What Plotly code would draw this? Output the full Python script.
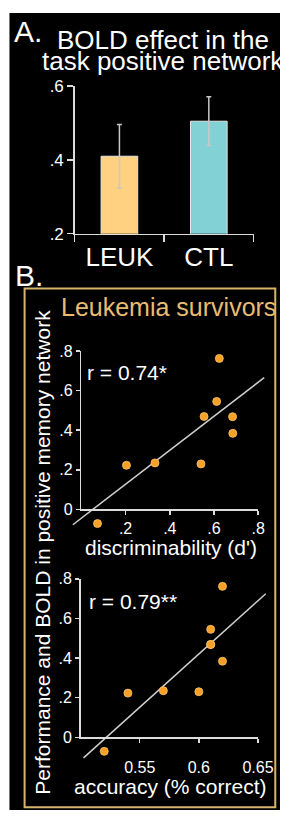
import plotly.graph_objects as go

# ---------------- data ----------------
groups = ["LEUK", "CTL"]
bold_means = [0.41, 0.505]
bold_err = [0.086, 0.066]

d_prime = [0.073, 0.204, 0.333, 0.541, 0.555, 0.612, 0.624, 0.684, 0.685]
accuracy = [0.520, 0.540, 0.570, 0.600, 0.610, 0.610, 0.620, 0.610, 0.620]
bold_memory = [-0.071, 0.223, 0.235, 0.230, 0.469, 0.545, 0.762, 0.468, 0.384]

fit_d_x = [-0.0385, 0.827]
fit_d_y = [-0.077, 0.665]
fit_acc_x = [0.5025, 0.6566]
fit_acc_y = [-0.104, 0.725]

bar_yticks = [0.2, 0.4, 0.6]
bar_yticktext = [".2", ".4", ".6"]
sc_yticks = [0, 0.2, 0.4, 0.6, 0.8]
sc_yticktext = ["0", ".2", ".4", ".6", ".8"]
d_xticks = [0.2, 0.4, 0.6, 0.8]
d_xticktext = [".2", ".4", ".6", ".8"]
acc_xticks = [0.55, 0.6, 0.65]
acc_xticktext = ["0.55", "0.6", "0.65"]

# ---------------- geometry ----------------
W, H = 296, 823
FONT = "Liberation Sans, Arial, Helvetica, sans-serif"
AX = "#DCDCDC"
GOLD = "#D8B36C"
ORANGE = "#F5A027"


def xd(p0, p1):
    return [p0 / W, p1 / W]


def yd(ptop, pbot):
    return [1 - pbot / H, 1 - ptop / H]


def px(p):
    return p / W


def py(p):
    return 1 - p / H


# top scatter pixel mapping
T_X0, T_XS = 86.0, 233.75      # px at x=0, px per unit
T_Y0, T_YS = 512.3, 202.9      # px at y=0, px per unit
T_XR = [-0.046, 0.835]
T_YR = [-0.115, 0.80]
# bottom scatter pixel mapping
B_X0, B_XV, B_XS = 85.2, 0.5, 1250.0
B_Y0, B_YS = 745.5, 202.75
B_XR = [0.4965, 0.661]
B_YR = [-0.125, 0.80]

fig = go.Figure()

# ---------------- panel A bars ----------------
fig.add_trace(go.Bar(
    x=groups, y=bold_means, width=0.41,
    marker=dict(color=["#FFD181", "#81D1D5"], line=dict(color="#E6E6E6", width=1)),
    error_y=dict(type="data", array=bold_err, color="#C8C8C8", thickness=1.5, width=2.5),
    xaxis="x", yaxis="y", showlegend=False, hoverinfo="skip",
))

# ---------------- top scatter (data axes x2/y2) ----------------
fig.add_trace(go.Scatter(
    x=fit_d_x, y=fit_d_y, mode="lines",
    line=dict(color="#CFCFCF", width=1.5),
    xaxis="x2", yaxis="y2", showlegend=False, hoverinfo="skip",
))
fig.add_trace(go.Scatter(
    x=d_prime, y=bold_memory, mode="markers",
    marker=dict(color=ORANGE, size=8, line=dict(color="#FFC46A", width=0.8)),
    xaxis="x2", yaxis="y2", showlegend=False, hoverinfo="skip",
))
# display axes x3/y3
fig.add_trace(go.Scatter(x=[None], y=[None], xaxis="x3", yaxis="y3",
                         showlegend=False, hoverinfo="skip"))

# ---------------- bottom scatter (data axes x4/y4) ----------------
fig.add_trace(go.Scatter(
    x=fit_acc_x, y=fit_acc_y, mode="lines",
    line=dict(color="#CFCFCF", width=1.5),
    xaxis="x4", yaxis="y4", showlegend=False, hoverinfo="skip",
))
fig.add_trace(go.Scatter(
    x=accuracy, y=bold_memory, mode="markers",
    marker=dict(color=ORANGE, size=8, line=dict(color="#FFC46A", width=0.8)),
    xaxis="x4", yaxis="y4", showlegend=False, hoverinfo="skip",
))
fig.add_trace(go.Scatter(x=[None], y=[None], xaxis="x5", yaxis="y5",
                         showlegend=False, hoverinfo="skip"))

tickfont_a = dict(family=FONT, size=17, color="white")
tickfont_b = dict(family=FONT, size=16, color="white")

common_disp = dict(showline=True, linecolor=AX, linewidth=1.5, ticks="outside",
                   tickcolor=AX, tickwidth=1.5, showgrid=False, zeroline=False,
                   fixedrange=True)
hidden = dict(visible=False, showgrid=False, zeroline=False, fixedrange=True)

fig.update_layout(
    width=W, height=H, autosize=False,
    margin=dict(l=0, r=0, t=0, b=0, pad=0),
    paper_bgcolor="white", plot_bgcolor="rgba(0,0,0,0)",
    font=dict(family=FONT, color="white"),
    bargap=0,
    # panel A
    xaxis=dict(domain=xd(79, 268), anchor="y", range=[-0.5, 1.5],
               tickson="boundaries", ticklen=7,
               tickfont=dict(family=FONT, size=26, color="white"), **common_disp),
    yaxis=dict(domain=yd(79, 230), anchor="x", range=[0.2, 0.6],
               tickvals=bar_yticks, ticktext=bar_yticktext, ticklen=6,
               tickfont=tickfont_a, **common_disp),
    # top scatter data axes
    xaxis2=dict(domain=xd(T_X0 + T_XR[0] * T_XS, T_X0 + T_XR[1] * T_XS),
                anchor="y2", range=T_XR, **hidden),
    yaxis2=dict(domain=yd(T_Y0 - T_YR[1] * T_YS, T_Y0 - T_YR[0] * T_YS),
                anchor="x2", range=T_YR, **hidden),
    # top scatter display axes
    xaxis3=dict(domain=xd(T_X0, T_X0 + 0.8 * T_XS), anchor="y3", range=[0, 0.8],
                tickvals=d_xticks, ticktext=d_xticktext, ticklen=4,
                tickfont=tickfont_b, **common_disp),
    yaxis3=dict(domain=yd(T_Y0 - 0.8 * T_YS, T_Y0), anchor="x3", range=[0, 0.8],
                tickvals=sc_yticks, ticktext=sc_yticktext, ticklen=4,
                tickfont=tickfont_b, **common_disp),
    # bottom scatter data axes
    xaxis4=dict(domain=xd(B_X0 + (B_XR[0] - B_XV) * B_XS, B_X0 + (B_XR[1] - B_XV) * B_XS),
                anchor="y4", range=B_XR, **hidden),
    yaxis4=dict(domain=yd(B_Y0 - B_YR[1] * B_YS, B_Y0 - B_YR[0] * B_YS),
                anchor="x4", range=B_YR, **hidden),
    # bottom scatter display axes
    xaxis5=dict(domain=xd(B_X0, B_X0 + 0.15 * B_XS), anchor="y5", range=[0.5, 0.65],
                tickvals=acc_xticks, ticktext=acc_xticktext, ticklen=4,
                ticklabelstandoff=11,
                tickfont=tickfont_b, **common_disp),
    yaxis5=dict(domain=yd(B_Y0 - 0.8 * B_YS, B_Y0), anchor="x5", range=[0, 0.8],
                tickvals=sc_yticks, ticktext=sc_yticktext, ticklen=4,
                tickfont=tickfont_b, **common_disp),
)

# background panels
fig.add_shape(type="rect", xref="paper", yref="paper",
              x0=px(10), x1=px(296), y0=py(820), y1=py(4),
              fillcolor="black", line=dict(width=0), layer="below")
fig.add_shape(type="rect", xref="paper", yref="paper",
              x0=px(26), x1=px(291), y0=py(817), y1=py(286),
              fillcolor="rgba(0,0,0,0)", line=dict(color=GOLD, width=2), layer="below")


def note(text, x, y, size, color="white", xanchor="center", yanchor="middle", angle=0):
    fig.add_annotation(text=text, x=x, y=y, xref="paper", yref="paper",
                       xanchor=xanchor, yanchor=yanchor, showarrow=False,
                       textangle=angle, borderpad=0,
                       font=dict(family=FONT, size=size, color=color))


note("A.", px(14), py(23), 30, xanchor="left")
note("BOLD effect in the", px(172), py(32), 26)
note("task positive network", px(172), py(53), 26)
note("B.", px(15), py(273), 30, xanchor="left")
note("Leukemia survivors", px(178), py(305), 25, color="#E8BC72")
note("Performance and BOLD in positive memory network", px(45), py(556), 21, angle=-90)
note("r = 0.74*", px(91), py(372), 21, xanchor="left")
note("discriminability (d')", px(181), py(551), 21)
note("r = 0.79**", px(93), py(607), 21, xanchor="left")
note("accuracy (% correct)", px(180), py(796), 21)

fig.write_html(
    "out.html",
    config={"displayModeBar": False, "staticPlot": True},
    post_script="document.body.style.margin='0';document.body.style.overflow='hidden';",
)
